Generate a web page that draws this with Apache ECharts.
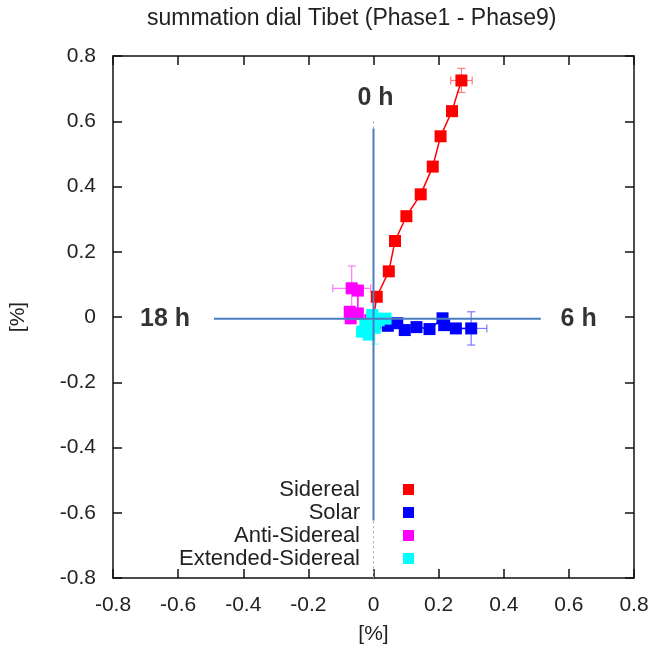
<!DOCTYPE html>
<html>
<head>
<meta charset="utf-8">
<title>summation dial Tibet</title>
<script src="https://cdn.jsdelivr.net/npm/echarts@6/dist/echarts.min.js"></script>
<style>
  html, body { margin: 0; padding: 0; background: #fff; }
  #main { width: 658px; height: 652px; }
</style>
</head>
<body>
<div id="main"></div>
<script>
// summed vectors, phase by phase (values in %)
const siderealX = [-0.004, 0.010, 0.047, 0.066, 0.101, 0.145, 0.182, 0.206, 0.241, 0.270];
const siderealY = [-0.027, 0.062, 0.140, 0.233, 0.309, 0.376, 0.461, 0.554, 0.631, 0.725];
const solarX = [0.005, 0.044, 0.073, 0.096, 0.132, 0.172, 0.212, 0.217, 0.253, 0.300];
const solarY = [-0.020, -0.027, -0.019, -0.040, -0.031, -0.037, -0.004, -0.025, -0.035, -0.035];
const antiX = [-0.010, -0.070, -0.073, -0.048, -0.048, -0.067];
const antiY = [-0.010, -0.004, 0.016, 0.011, 0.081, 0.088];
const extX = [0.004, 0.037, 0.016, -0.004, -0.025, -0.035, -0.015, 0.004];
const extY = [-0.005, -0.005, -0.010, 0.006, -0.025, -0.045, -0.054, -0.033];

// error of the last (total) point: [x, y, xerr, yerr]
const siderealErr = [0.270, 0.725, 0.033, 0.037];
const solarErr = [0.300, -0.035, 0.048, 0.051];
const antiErr = [-0.067, 0.088, 0.058, 0.068];
const extErr = [0.004, -0.033, 0.030, 0.050];

const seriesNames = ['Sidereal', 'Solar', 'Anti-Sidereal', 'Extended-Sidereal'];
const seriesColors = ['#ff0000', '#0000ff', '#ff00ff', '#00ffff'];
const errColors = ['#ff7a7a', '#7a7aff', '#ff7aff', '#7affff'];

// dial directions: 0 h up, 6 h right, 18 h left
const hourLabels = ['0 h', '6 h', '18 h'];
const hourPos = [[0.006, 0.67], [0.63, -0.005], [-0.64, -0.005]];
const dialH = [[-0.49, -0.005], [0.514, -0.005]];
const dialV = [[0, 0.578], [0, -0.624]];
const zeroAxis = [[0, 0.6], [0, -0.8]];

const font = 'Liberation Sans, Arial, Helvetica, sans-serif';

function zip(xs, ys) {
	return xs.map((x, i) => [x, ys[i]]);
}

function errSeries(err, color) {
	return {
		type: 'custom',
		silent: true,
		z: 2,
		data: [err],
		renderItem: function (params, api) {
			const x = api.value(0), y = api.value(1), dx = api.value(2), dy = api.value(3);
			const l = api.coord([x - dx, y]), r = api.coord([x + dx, y]);
			const t = api.coord([x, y + dy]), b = api.coord([x, y - dy]);
			const c = 4;
			const style = { stroke: color, lineWidth: 1.2 };
			const line = (x1, y1, x2, y2) => ({ type: 'line', shape: { x1, y1, x2, y2 }, style });
			return {
				type: 'group',
				children: [
					line(l[0], l[1], r[0], r[1]),
					line(l[0], l[1] - c, l[0], l[1] + c),
					line(r[0], r[1] - c, r[0], r[1] + c),
					line(t[0], t[1], b[0], b[1]),
					line(t[0] - c, t[1], t[0] + c, t[1]),
					line(b[0] - c, b[1], b[0] + c, b[1]),
				],
			};
		},
	};
}

function dataSeries(i, xs, ys) {
	return {
		name: seriesNames[i],
		type: 'line',
		z: 3 + i,
		data: zip(xs, ys),
		symbol: 'rect',
		symbolSize: 12,
		showSymbol: true,
		itemStyle: { color: seriesColors[i] },
		lineStyle: { color: seriesColors[i], width: 1.5 },
		emphasis: { disabled: true },
	};
}

const axisBase = {
	type: 'value',
	min: -0.8,
	max: 0.8,
	interval: 0.2,
	splitLine: { show: false },
	axisLine: { show: true, onZero: false, lineStyle: { color: '#111', width: 1.5 } },
	axisTick: { show: true, inside: true, length: 9, lineStyle: { color: '#111', width: 1.5 } },
};

const chart = echarts.init(document.getElementById('main'));

chart.setOption({
	animation: false,
	backgroundColor: '#fff',
	title: {
		text: 'summation dial Tibet (Phase1 - Phase9)',
		left: 142,
		top: 2,
		textStyle: { fontFamily: font, fontSize: 23, fontWeight: 'normal', color: '#222' },
	},
	grid: { left: 112, right: 24, top: 56, bottom: 74 },
	legend: {
		data: seriesNames,
		orient: 'vertical',
		align: 'right',
		left: 125,
		top: 473,
		icon: 'rect',
		itemWidth: 11,
		itemHeight: 11,
		itemGap: 0,
		selectedMode: false,
		textStyle: {
			fontFamily: font,
			fontSize: 22,
			color: '#222',
			width: 230,
			align: 'right',
			lineHeight: 23,
			padding: [0, 38, 0, 0],
		},
	},
	xAxis: [
		Object.assign({}, axisBase, {
			position: 'bottom',
			name: '[%]',
			nameLocation: 'middle',
			nameGap: 46,
			nameTextStyle: { fontFamily: font, fontSize: 21, color: '#222' },
			axisLabel: { fontFamily: font, fontSize: 21, color: '#222', margin: 17 },
		}),
		Object.assign({}, axisBase, { position: 'top', axisLabel: { show: false } }),
	],
	yAxis: [
		Object.assign({}, axisBase, {
			position: 'left',
			name: '[%]',
			nameLocation: 'middle',
			nameGap: 84,
			nameRotate: 90,
			nameTextStyle: { fontFamily: font, fontSize: 21, color: '#222' },
			axisLabel: { fontFamily: font, fontSize: 21, color: '#222', margin: 17 },
		}),
		Object.assign({}, axisBase, { position: 'right', axisLabel: { show: false } }),
	],
	series: [
		{
			type: 'line',
			data: zeroAxis,
			symbol: 'none',
			silent: true,
			z: 1,
			lineStyle: { color: '#aaa', width: 1, type: [2, 3] },
		},
		errSeries(siderealErr, errColors[0]),
		errSeries(solarErr, errColors[1]),
		errSeries(antiErr, errColors[2]),
		errSeries(extErr, errColors[3]),
		dataSeries(0, siderealX, siderealY),
		dataSeries(1, solarX, solarY),
		dataSeries(2, antiX, antiY),
		dataSeries(3, extX, extY),
		{
			type: 'line',
			data: dialH,
			symbol: 'none',
			silent: true,
			z: 10,
			lineStyle: { color: '#4a7cc0', width: 2 },
		},
		{
			type: 'line',
			data: dialV,
			symbol: 'none',
			silent: true,
			z: 10,
			lineStyle: { color: '#4a7cc0', width: 2 },
		},
		{
			type: 'scatter',
			silent: true,
			z: 11,
			symbolSize: 0,
			data: hourPos.map((p, i) => ({ value: p, name: hourLabels[i] })),
			label: {
				show: true,
				position: 'inside',
				formatter: '{b}',
				fontFamily: font,
				fontSize: 25,
				fontWeight: 'bold',
				color: '#000',
			},
		},
	],
});
</script>
</body>
</html>
